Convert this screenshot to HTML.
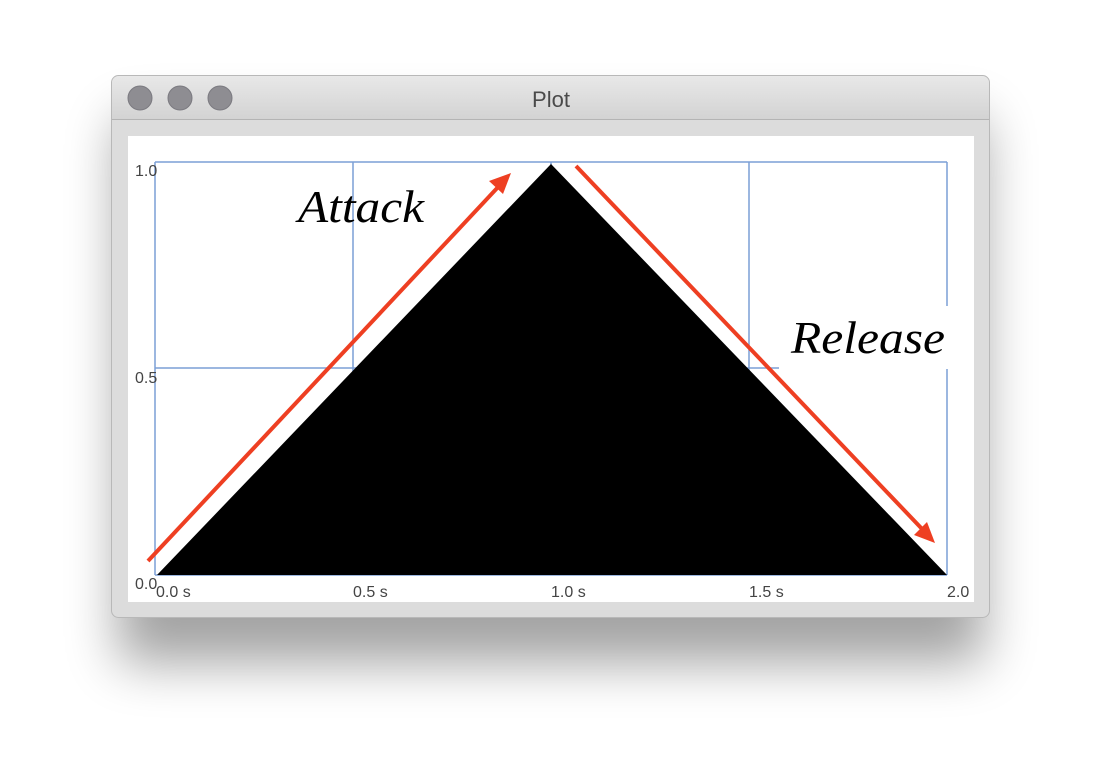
<!DOCTYPE html>
<html><head><style>
html,body{margin:0;padding:0;background:#fff;width:1102px;height:766px;overflow:hidden}
</style></head><body>
<svg width="1102" height="766" xmlns="http://www.w3.org/2000/svg">
<defs>
<filter id="sh" x="-20%" y="-20%" width="140%" height="160%"><feGaussianBlur stdDeviation="26"/></filter>
<linearGradient id="tb" x1="0" y1="0" x2="0" y2="1"><stop offset="0" stop-color="#e8e8e8"/><stop offset="1" stop-color="#d3d3d3"/></linearGradient>
</defs>
<rect x="118" y="118" width="866" height="545" rx="8" fill="#000" opacity="0.36" filter="url(#sh)"/>
<rect x="111.5" y="75.5" width="878" height="542" rx="7" fill="#dcdcdc" stroke="#b8b8b8"/>
<path d="M112 119 V83 a7 7 0 0 1 7 -7 H982 a7 7 0 0 1 7 7 V119 Z" fill="url(#tb)"/>
<line x1="112" y1="119.5" x2="989" y2="119.5" stroke="#b4b4b4"/>
<circle cx="140" cy="98" r="12" fill="#8e8d92" stroke="#7b7a80"/>
<circle cx="180" cy="98" r="12" fill="#8e8d92" stroke="#7b7a80"/>
<circle cx="220" cy="98" r="12" fill="#8e8d92" stroke="#7b7a80"/>
<text x="551" y="107" font-family="Liberation Sans, sans-serif" font-size="22" fill="#4a4a4a" text-anchor="middle">Plot</text>
<rect x="128" y="136" width="846" height="466" fill="#fff"/>
<g stroke="#7c9fd6" stroke-width="1.5" fill="none">
<line x1="155" y1="162" x2="947" y2="162"/>
<line x1="155" y1="368" x2="947" y2="368"/>
<line x1="155" y1="575" x2="947" y2="575"/>
<line x1="155" y1="162" x2="155" y2="575"/>
<line x1="353" y1="162" x2="353" y2="575"/>
<line x1="551" y1="162" x2="551" y2="575"/>
<line x1="749" y1="162" x2="749" y2="575"/>
<line x1="947" y1="162" x2="947" y2="575"/>
</g>
<polygon points="157,575 551,164 947,575" fill="#000"/>
<rect x="779" y="306" width="180" height="63" fill="#fff"/>
<g font-family="Liberation Sans, sans-serif" font-size="16" fill="#444">
<text x="135" y="176">1.0</text>
<text x="135" y="383">0.5</text>
<text x="135" y="589">0.0</text>
<text x="156" y="597">0.0 s</text>
<text x="353" y="597">0.5 s</text>
<text x="551" y="597">1.0 s</text>
<text x="749" y="597">1.5 s</text>
<text x="947" y="597">2.0</text>
</g>
<g stroke="#ee3f22" stroke-width="4" fill="#ee3f22">
<line x1="148" y1="561" x2="500" y2="185"/>
<line x1="576" y1="166" x2="924" y2="531"/>
</g>
<polygon points="511,173 489,181 503,194" fill="#ee3f22"/>
<polygon points="935,543 914,535 927,522" fill="#ee3f22"/>
<g font-family="Liberation Serif, serif" font-style="italic" font-size="46" fill="#000">
<text x="298" y="222" textLength="126" lengthAdjust="spacingAndGlyphs">Attack</text>
<text x="791" y="353" textLength="154" lengthAdjust="spacingAndGlyphs">Release</text>
</g>
</svg>
</body></html>
